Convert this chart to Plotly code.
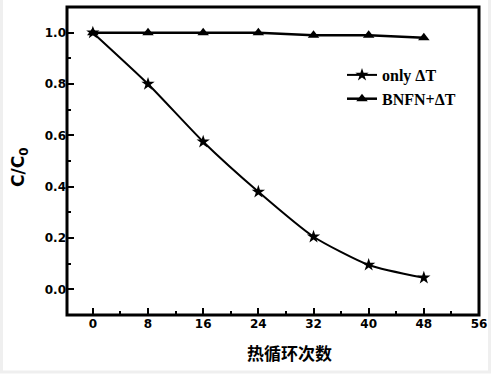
import plotly.graph_objects as go

cycles = [0, 8, 16, 24, 32, 40, 48]
only_dt = [1.0, 0.80, 0.575, 0.38, 0.205, 0.095, 0.045]
bnfn_dt = [1.0, 1.0, 1.0, 1.0, 0.99, 0.99, 0.98]
x_ticks = [0, 8, 16, 24, 32, 40, 48, 56]
y_ticks = [0.0, 0.2, 0.4, 0.6, 0.8, 1.0]

W, H = 491, 374
L, R, T, B = 67, 12, 7, 59

fig = go.Figure()
fig.add_trace(go.Scatter(
    x=cycles, y=only_dt, name="<b>only ΔT</b>", mode="lines+markers",
    line=dict(color="black", width=2, shape="spline", smoothing=0.6),
    marker=dict(symbol="star", size=10, color="black"),
))
fig.add_trace(go.Scatter(
    x=cycles, y=bnfn_dt, name="<b>BNFN+ΔT</b>", mode="lines+markers",
    line=dict(color="black", width=2.5),
    marker=dict(symbol="triangle-up", size=10, color="black"),
))

tickfont = dict(family="DejaVu Sans", size=12, color="black")
fig.update_xaxes(
    range=[-3.75, 56], tickvals=x_ticks, ticktext=[f"<b>{v}</b>" for v in x_ticks],
    ticks="inside", ticklen=7, tickwidth=2, tickcolor="black",
    minor=dict(dtick=4, tick0=0, ticks="inside", ticklen=4, tickwidth=2, tickcolor="black"),
    showline=False,
    showgrid=False, zeroline=False, tickfont=tickfont, automargin=False,
)
fig.update_yaxes(
    range=[-0.1, 1.1], tickvals=y_ticks, ticktext=[f"<b>{v:.1f}</b>" for v in y_ticks],
    ticks="inside", ticklen=7, tickwidth=2, tickcolor="black",
    minor=dict(dtick=0.1, tick0=0, ticks="inside", ticklen=4, tickwidth=2, tickcolor="black"),
    showline=False,
    showgrid=False, zeroline=False, tickfont=tickfont, automargin=False,
)

# y-axis title
fig.add_annotation(
    text="<b>C/C<sub>0</sub></b>", xref="paper", yref="paper",
    x=-(L - 19) / (W - L - R), y=(315 - 168) / (H - T - B),
    xanchor="center", yanchor="middle", textangle=-90, showarrow=False,
    font=dict(family="DejaVu Sans", size=17, color="black"),
)

# x-axis title
fig.add_annotation(
    text="<b>热循环次数</b>", xref="paper", yref="paper",
    x=(289 - L) / (W - L - R), y=-(352 - (H - B)) / (H - T - B),
    xanchor="center", yanchor="middle", showarrow=False,
    font=dict(family="Noto Sans CJK SC", size=17, color="black"),
)

# plot frame
fig.add_shape(type="rect", xref="paper", yref="paper", x0=0, x1=1, y0=0, y1=1,
              line=dict(color="black", width=3), fillcolor="rgba(0,0,0,0)", layer="above")

# light gray page frame
fig.add_shape(type="rect", xref="paper", yref="paper",
              x0=-(L - 1.5) / (W - L - R), x1=1 + (R - 1.5) / (W - L - R),
              y0=-(B - 2) / (H - T - B), y1=1 + (T + 3) / (H - T - B),
              line=dict(color="#efefef", width=3), fillcolor="rgba(0,0,0,0)", layer="below")

fig.update_layout(
    width=W, height=H,
    margin=dict(l=L, r=R, t=T, b=B, autoexpand=False),
    paper_bgcolor="white", plot_bgcolor="white",
    showlegend=True,
    legend=dict(
        x=(342 - L) / (W - L - R), y=(315 - 58) / (H - T - B),
        xanchor="left", yanchor="top",
        bgcolor="rgba(0,0,0,0)", borderwidth=0,
        font=dict(family="Liberation Serif", size=16, color="black"),
        tracegroupgap=0, itemwidth=30,
    ),
)

fig.write_html(
    "out.html",
    config={"displayModeBar": False},
    post_script="document.body.style.margin='0';document.body.style.padding='0';document.documentElement.style.overflow='hidden';",
)
